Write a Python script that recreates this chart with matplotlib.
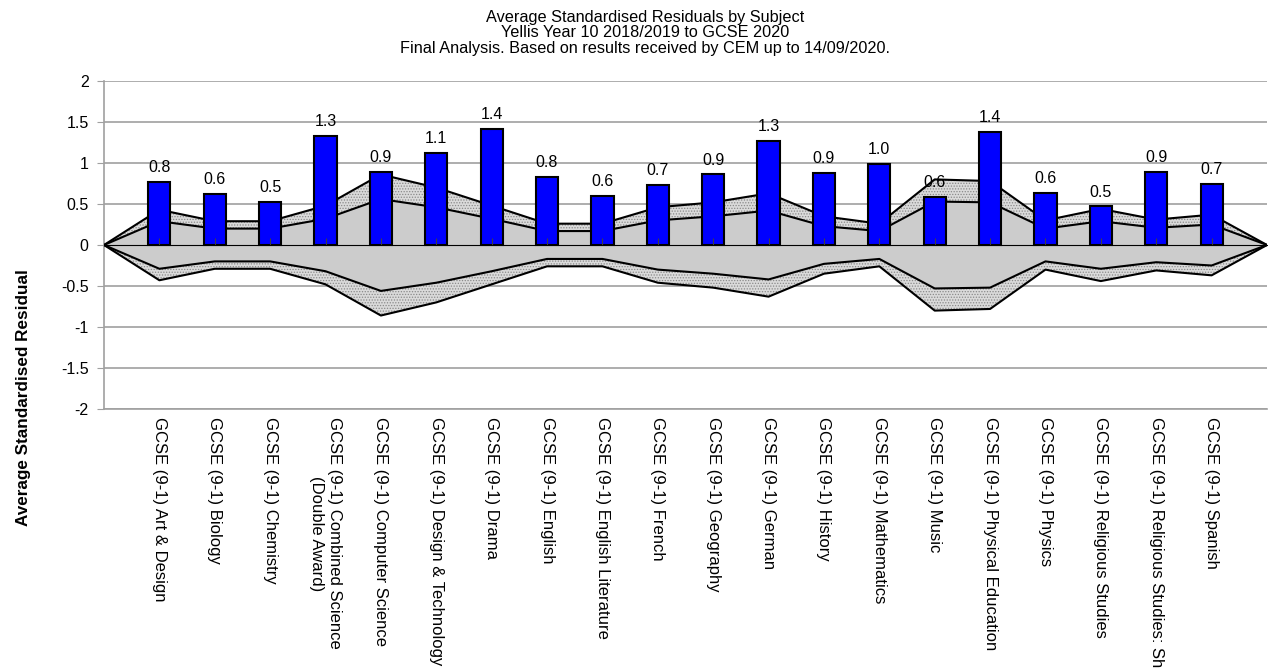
import numpy as np
import matplotlib
matplotlib.use("Agg")
import matplotlib.pyplot as plt

plt.rcParams['font.family'] = ['Liberation Sans', 'DejaVu Sans']
plt.rcParams['hatch.linewidth'] = 0.6

subjects = [
    "GCSE (9-1) Art & Design",
    "GCSE (9-1) Biology",
    "GCSE (9-1) Chemistry",
    "GCSE (9-1) Combined Science\n(Double Award)",
    "GCSE (9-1) Computer Science",
    "GCSE (9-1) Design & Technology",
    "GCSE (9-1) Drama",
    "GCSE (9-1) English",
    "GCSE (9-1) English Literature",
    "GCSE (9-1) French",
    "GCSE (9-1) Geography",
    "GCSE (9-1) German",
    "GCSE (9-1) History",
    "GCSE (9-1) Mathematics",
    "GCSE (9-1) Music",
    "GCSE (9-1) Physical Education",
    "GCSE (9-1) Physics",
    "GCSE (9-1) Religious Studies",
    "GCSE (9-1) Religious Studies: Short Course",
    "GCSE (9-1) Spanish",
]

# average standardised residual per subject
residuals = [0.77, 0.62, 0.53, 1.33, 0.89, 1.12, 1.42, 0.83, 0.60, 0.73,
             0.86, 1.27, 0.88, 0.99, 0.58, 1.38, 0.64, 0.47, 0.89, 0.74]

# confidence limits (symmetric about zero)
inner_limit = [0.29, 0.20, 0.20, 0.32, 0.56, 0.46, 0.32, 0.17, 0.17, 0.30,
               0.35, 0.42, 0.23, 0.17, 0.53, 0.52, 0.20, 0.29, 0.21, 0.25]
outer_limit = [0.43, 0.29, 0.29, 0.48, 0.86, 0.70, 0.48, 0.26, 0.26, 0.46,
               0.52, 0.63, 0.35, 0.26, 0.80, 0.78, 0.30, 0.44, 0.31, 0.37]

title_lines = [
    "Average Standardised Residuals by Subject",
    "Yellis Year 10 2018/2019 to GCSE 2020",
    "Final Analysis. Based on results received by CEM up to 14/09/2020.",
]

n = len(subjects)
x = np.arange(1, n + 1)
xb = np.arange(0, n + 2)
inner = np.concatenate([[0], inner_limit, [0]])
outer = np.concatenate([[0], outer_limit, [0]])

fig = plt.figure(figsize=(12.68, 6.69), dpi=100)
ax = fig.add_axes([104 / 1268, 1 - 409 / 669, 1163 / 1268, 328 / 669])

ax.set_xlim(0, n + 1)
ax.set_ylim(-2, 2)

# stippled outer band
for sgn in (1, -1):
    ax.fill_between(xb, sgn * inner, sgn * outer, facecolor='#dadada',
                    hatch='......', edgecolor='#8a8a8a', linewidth=0, zorder=2)
# solid inner band
ax.fill_between(xb, -inner, inner, facecolor='#cccccc', linewidth=0, zorder=2)
for line in (inner, outer, -inner, -outer):
    ax.plot(xb, line, color='black', lw=1.5, zorder=3)

bars = ax.bar(x, residuals, width=0.4, color='#0000ff', edgecolor='black',
              linewidth=1.5, zorder=4)
for b, v in zip(bars, residuals):
    ax.annotate(f"{v:.1f}", (b.get_x() + b.get_width() / 2, v),
                xytext=(0, 5), textcoords='offset points',
                ha='center', va='bottom', fontsize=11.5, zorder=5)

# grid and frame
ax.set_yticks(np.arange(-2, 2.01, 0.5))
ax.set_yticklabels(['-2', '-1.5', '-1', '-0.5', '0', '0.5', '1', '1.5', '2'])
ax.yaxis.grid(True, color='#a0a0a0', lw=1.2, zorder=0)
ax.set_axisbelow(True)
for s in ('top', 'right'):
    ax.spines[s].set_visible(False)
for s in ('left', 'bottom'):
    ax.spines[s].set_color('#a0a0a0')
    ax.spines[s].set_linewidth(1.2)
ax.tick_params(axis='y', labelsize=11.5, length=5, color='#a0a0a0', pad=6)

ax.set_xticks(x)
ax.set_xticklabels(subjects, rotation=270, fontsize=12, ha='center', va='top')
ax.tick_params(axis='x', length=0, pad=6)

# category axis crossing at zero
zax = ax.secondary_xaxis(0.5)
zax.set_xticks(x)
zax.set_xticklabels([])
zax.tick_params(length=5, direction='out', color='#404040')
zax.spines['bottom'].set_color('black')
zax.spines['bottom'].set_linewidth(1.3)
zax.set_zorder(6)

for i, t in enumerate(title_lines):
    fig.text(645 / 1268, 1 - (17.5 + 15.3 * i) / 669, t,
             ha='center', va='center', fontsize=11.7)
fig.text(24 / 1268, 1 - 398 / 669, "Average Standardised Residual",
         rotation=90, ha='center', va='center', fontsize=12.3, fontweight='bold')

fig.savefig("out.png", dpi=100)
